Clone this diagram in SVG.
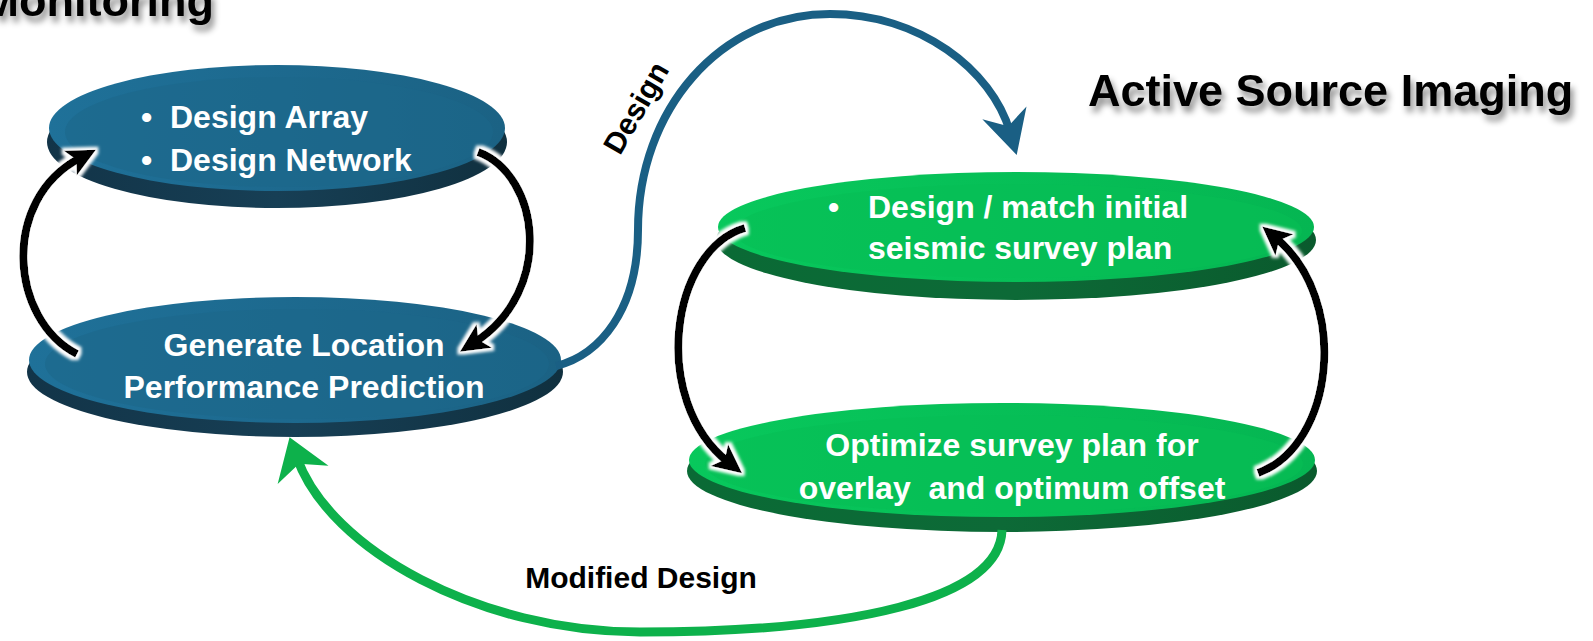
<svg xmlns="http://www.w3.org/2000/svg" width="1593" height="641" viewBox="0 0 1593 641">
<defs>
<style>
.ttl{font-family:"Liberation Sans",Arial,sans-serif;font-weight:bold;font-size:45px;fill:#000;}
.nt{font-family:"Liberation Sans",Arial,sans-serif;font-weight:bold;font-size:32px;fill:#fff;}
.lbl{font-family:"Liberation Sans",Arial,sans-serif;font-weight:bold;font-size:30px;fill:#000;}
.blk{fill:none;stroke:#000;stroke-width:8;}
</style>
<linearGradient id="blueFace" x1="0" y1="0" x2="1" y2="0">
<stop offset="0" stop-color="#1f7199"/><stop offset="1" stop-color="#1b6284"/>
</linearGradient>
<linearGradient id="blueRim" x1="0" y1="0" x2="1" y2="0">
<stop offset="0" stop-color="#123448"/><stop offset="0.5" stop-color="#173f55"/><stop offset="1" stop-color="#10303f"/>
</linearGradient>
<linearGradient id="greenFace" x1="0" y1="0" x2="1" y2="0">
<stop offset="0" stop-color="#08c85c"/><stop offset="1" stop-color="#05b652"/>
</linearGradient>
<linearGradient id="greenRim" x1="0" y1="0" x2="1" y2="0">
<stop offset="0" stop-color="#0a6a35"/><stop offset="0.5" stop-color="#0d6a37"/><stop offset="1" stop-color="#0a5a2d"/>
</linearGradient>
<filter id="glow" x="-30%" y="-30%" width="160%" height="160%">
<feMorphology in="SourceAlpha" operator="dilate" radius="2.5" result="d"/>
<feGaussianBlur in="d" stdDeviation="1.5" result="b"/>
<feFlood flood-color="#ffffff"/>
<feComposite in2="b" operator="in" result="w"/>
<feMerge><feMergeNode in="w"/><feMergeNode in="SourceGraphic"/></feMerge>
</filter>
<filter id="tshadow" x="-10%" y="-30%" width="120%" height="180%">
<feDropShadow dx="3" dy="6" stdDeviation="3" flood-color="#000" flood-opacity="0.45"/>
</filter>
<marker id="ahBlack" markerUnits="userSpaceOnUse" viewBox="-15 -20 40 40" markerWidth="40" markerHeight="40" refX="0" refY="0" orient="auto">
<path d="M18,0 L-11,-14 L-4,0 L-11,14 Z" fill="#000"/>
</marker>
<marker id="ahBlue" markerUnits="userSpaceOnUse" viewBox="-25 -30 55 60" markerWidth="55" markerHeight="60" refX="0" refY="0" orient="auto">
<path d="M24,0 L-20,-23 L-6,0 L-20,23 Z" fill="#1a5f84"/>
</marker>
<marker id="ahGreen" markerUnits="userSpaceOnUse" viewBox="-25 -30 55 60" markerWidth="55" markerHeight="60" refX="0" refY="0" orient="auto">
<path d="M22,0 L-18,-27 L-6,0 L-18,27 Z" fill="#0db14b"/>
</marker>
</defs>
<rect width="1593" height="641" fill="#ffffff"/>

<g id="titles" filter="url(#tshadow)">
<text class="ttl" x="214" y="16" text-anchor="end">Monitoring</text>
<text class="ttl" x="1088" y="106">Active Source Imaging</text>
</g>

<g id="node-design-array">
<ellipse cx="277" cy="142" rx="230" ry="66" fill="url(#blueRim)"/>
<ellipse cx="277" cy="128" rx="228" ry="63" fill="url(#blueFace)"/>
<ellipse cx="279" cy="132" rx="214" ry="55" fill="#1c678b" opacity="0.6"/>
<text class="nt" x="141" y="128">•</text>
<text class="nt" x="170" y="128">Design Array</text>
<text class="nt" x="141" y="171">•</text>
<text class="nt" x="170" y="171">Design Network</text>
</g>

<g id="node-generate-location">
<ellipse cx="295" cy="372" rx="268" ry="65" fill="url(#blueRim)"/>
<ellipse cx="295" cy="360" rx="266" ry="63" fill="url(#blueFace)"/>
<ellipse cx="297" cy="364" rx="252" ry="55" fill="#1c678b" opacity="0.6"/>
<text class="nt" x="304" y="356" text-anchor="middle">Generate Location</text>
<text class="nt" x="304" y="398" text-anchor="middle">Performance Prediction</text>
</g>

<g id="node-design-match">
<ellipse cx="1016" cy="240" rx="300" ry="60" fill="url(#greenRim)"/>
<ellipse cx="1016" cy="227" rx="298" ry="55" fill="url(#greenFace)"/>
<ellipse cx="1018" cy="231" rx="284" ry="47" fill="#06be55" opacity="0.6"/>
<text class="nt" x="828" y="218">•</text>
<text class="nt" x="868" y="218">Design / match initial</text>
<text class="nt" x="868" y="259">seismic survey plan</text>
</g>

<g id="node-optimize">
<ellipse cx="1002" cy="471" rx="315" ry="61" fill="url(#greenRim)"/>
<ellipse cx="1002" cy="460" rx="313" ry="57" fill="url(#greenFace)"/>
<ellipse cx="1004" cy="464" rx="299" ry="49" fill="#06be55" opacity="0.6"/>
<text class="nt" x="1012" y="456" text-anchor="middle">Optimize survey plan for</text>
<text class="nt" x="1012" y="499" text-anchor="middle" xml:space="preserve">overlay  and optimum offset</text>
</g>

<g id="connectors">
<g filter="url(#glow)">
<path class="blk" d="M77,354 C10,320 0,200 80,158" marker-end="url(#ahBlack)"/>
<path class="blk" d="M478,152 C540,175 555,290 475,342" marker-end="url(#ahBlack)"/>
<path class="blk" d="M745,228 C670,250 650,400 728,462" marker-end="url(#ahBlack)"/>
<path class="blk" d="M1258,473 C1335,445 1350,300 1276,238" marker-end="url(#ahBlack)"/>
</g>
<path d="M556,366 C600,355 638,310 638,230 C638,110 720,14 830,14 C920,14 992,70 1010,132" fill="none" stroke="#1a5f84" stroke-width="8" marker-end="url(#ahBlue)"/>
<path d="M1002,530 C1000,600 850,632 640,632 C480,632 330,550 297,458" fill="none" stroke="#0db14b" stroke-width="9" marker-end="url(#ahGreen)"/>
<text class="lbl" transform="translate(645,113) rotate(-60)" text-anchor="middle">Design</text>
<text class="lbl" x="641" y="588" text-anchor="middle">Modified Design</text>
</g>
</svg>
